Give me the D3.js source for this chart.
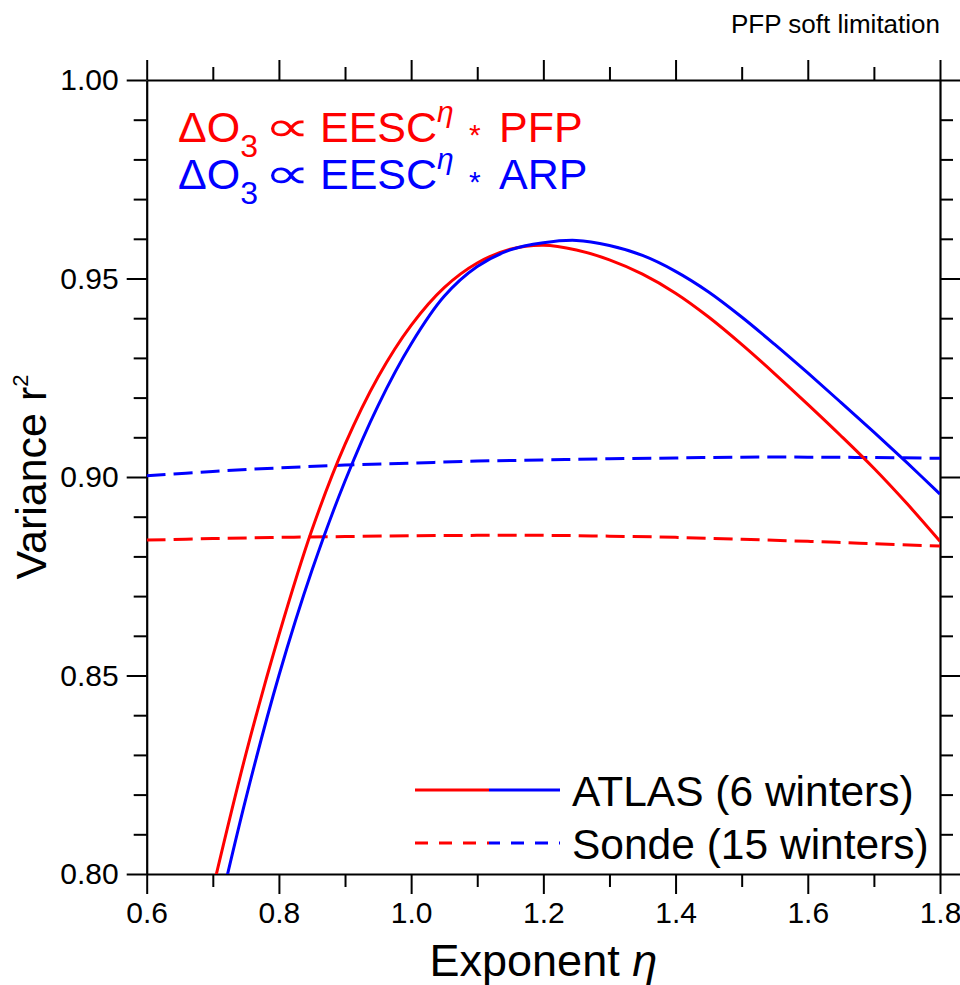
<!DOCTYPE html>
<html>
<head>
<meta charset="utf-8">
<script src="https://cdn.jsdelivr.net/npm/d3@7"></script>
<style>
  body { margin: 0; background: #fff; }
  text { font-family: "Liberation Sans", Arial, Helvetica, sans-serif; }
</style>
</head>
<body>
<script>
var w = 960;
var h = 985;

// exponent grid for the ATLAS curves
var etaGrid = [0.70, 0.75, 0.80, 0.85, 0.90, 0.95, 1.00, 1.05, 1.10, 1.15, 1.20, 1.25,
               1.30, 1.35, 1.40, 1.45, 1.50, 1.55, 1.60, 1.65, 1.70, 1.75, 1.80];
var atlasPFP = [0.7962, 0.8302, 0.8602, 0.8867, 0.9082, 0.9252, 0.9382, 0.9477, 0.9539, 0.9574, 0.9584, 0.9572,
                0.9547, 0.9511, 0.9463, 0.9403, 0.9334, 0.9260, 0.9183, 0.9104, 0.9022, 0.8933, 0.8838];
var atlasARP = [0.7840, 0.8190, 0.8500, 0.8765, 0.8990, 0.9180, 0.9335, 0.9455, 0.9530, 0.9572, 0.9590, 0.9596,
                0.9583, 0.9558, 0.9518, 0.9466, 0.9403, 0.9334, 0.9262, 0.9188, 0.9113, 0.9036, 0.8957];

// sonde curves, coarser grid
var sondeEta = [0.6, 0.7, 0.8, 0.9, 1.0, 1.1, 1.2, 1.3, 1.4, 1.5, 1.6, 1.7, 1.8];
var sondePFP = [0.8841, 0.8845, 0.8848, 0.8850, 0.8852, 0.8853, 0.8853, 0.8851, 0.8848, 0.8843, 0.8838, 0.8832, 0.8826];
var sondeARP = [0.9003, 0.9014, 0.9023, 0.9030, 0.9035, 0.9040, 0.9043, 0.9046, 0.9048, 0.9050, 0.9050, 0.9049, 0.9047];

var xMajor = [0.6, 0.8, 1.0, 1.2, 1.4, 1.6, 1.8];
var xMinor = [0.7, 0.9, 1.1, 1.3, 1.5, 1.7];
var yMajor = [0.80, 0.85, 0.90, 0.95, 1.00];
var yMinor = d3.range(80, 101).map(function(v){ return v / 100; })
               .filter(function(v){ return Math.round(v * 100) % 5 !== 0; });

var legendLabels = ["ATLAS (6 winters)", "Sonde (15 winters)"];

var margin = {left: 146.7, right: 20, top: 80, bottom: 111};

var svg = d3.select("body")
    .append("svg")
    .attr("width", w)
    .attr("height", h);

var xScale = d3.scaleLinear()
    .domain([0.6, 1.8])
    .range([margin.left, w - margin.right]);

var yScale = d3.scaleLinear()
    .domain([0.80, 1.00])
    .range([h - margin.bottom, margin.top]);

svg.append("clipPath")
    .attr("id", "plotclip")
    .append("rect")
    .attr("x", margin.left)
    .attr("y", margin.top)
    .attr("width", xScale(1.8) - margin.left)
    .attr("height", yScale(0.8) - margin.top);

// axes, major and minor ticks on all four sides
function drawAxis(axisFn, scale, transform, major, minor, fmt) {
    var gMinor = svg.append("g")
        .attr("transform", transform)
        .call(axisFn(scale).tickValues(minor).tickSize(13).tickSizeOuter(0).tickFormat(""));
    gMinor.select(".domain").remove();
    var g = svg.append("g")
        .attr("transform", transform)
        .call(axisFn(scale).tickValues(major).tickSize(20).tickSizeOuter(0)
              .tickPadding(8).tickFormat(fmt ? d3.format(fmt) : ""));
    g.selectAll("line").attr("stroke-width", 2);
    gMinor.selectAll("line").attr("stroke-width", 2);
    g.select(".domain").attr("stroke-width", 2.2);
    g.selectAll("text")
        .attr("font-size", 30)
        .attr("font-family", "Liberation Sans, Arial, sans-serif")
        .attr("fill", "#000");
    return g;
}

drawAxis(d3.axisBottom, xScale, "translate(0," + yScale(0.8) + ")", xMajor, xMinor, ".1f");
drawAxis(d3.axisTop, xScale, "translate(0," + yScale(1.0) + ")", xMajor, xMinor, null);
drawAxis(d3.axisLeft, yScale, "translate(" + xScale(0.6) + ",0)", yMajor, yMinor, ".2f");
drawAxis(d3.axisRight, yScale, "translate(" + xScale(1.8) + ",0)", yMajor, yMinor, null);

// curves
var line = d3.line()
    .x(function(d){ return xScale(d[0]); })
    .y(function(d){ return yScale(d[1]); })
    .curve(d3.curveCatmullRom.alpha(0.5));

var series = [
    {eta: sondeEta, vals: sondePFP, color: "#ff0000", dash: "19,8"},
    {eta: sondeEta, vals: sondeARP, color: "#0000ff", dash: "19,8"},
    {eta: etaGrid, vals: atlasPFP, color: "#ff0000", dash: null},
    {eta: etaGrid, vals: atlasARP, color: "#0000ff", dash: null}
];

svg.append("g")
    .attr("clip-path", "url(#plotclip)")
    .selectAll("path")
    .data(series)
    .enter()
    .append("path")
    .attr("d", function(s){ return line(s.eta.map(function(e, i){ return [e, s.vals[i]]; })); })
    .attr("fill", "none")
    .attr("stroke", function(s){ return s.color; })
    .attr("stroke-width", 3)
    .attr("stroke-dasharray", function(s){ return s.dash; });

// formula labels
function formula(y, color, tail) {
    var t = svg.append("text")
        .attr("y", y)
        .attr("fill", color)
        .attr("font-size", 43);
    t.append("tspan").attr("x", 178).text("\u0394O");
    t.append("tspan").attr("font-size", 32).attr("dy", 15).text("3");
    t.append("tspan").attr("x", 320).attr("dy", -15).text("EESC");
    t.append("tspan").attr("font-size", 30).attr("font-style", "italic").attr("dy", -20).text("\u03B7");
    t.append("tspan").attr("x", 469).attr("font-size", 30).attr("dy", 23).text("*");
    t.append("tspan").attr("x", 499).attr("dy", -3).text(tail);
    // the proportional sign is wider in the original
    svg.append("text")
        .attr("transform", "translate(287," + (y - 1) + ") scale(1.55,1)")
        .attr("text-anchor", "middle")
        .attr("fill", color)
        .attr("font-family", "DejaVu Sans")
        .attr("font-size", 42)
        .text("\u221D");
}
formula(142, "#ff0000", "PFP");
formula(189, "#0000ff", "ARP");

// legend
var legY = [790, 843];
[0, 1].forEach(function(i){
    var dash = i === 0 ? null : "13,11";
    svg.append("line").attr("x1", 415).attr("x2", 489).attr("y1", legY[i]).attr("y2", legY[i])
        .attr("stroke", "#ff0000").attr("stroke-width", 3).attr("stroke-dasharray", dash);
    svg.append("line").attr("x1", 489).attr("x2", 560).attr("y1", legY[i]).attr("y2", legY[i])
        .attr("stroke", "#0000ff").attr("stroke-width", 3).attr("stroke-dasharray", dash)
        .attr("stroke-dashoffset", dash ? 2 : null);
    svg.append("text").attr("x", 572).attr("y", legY[i] + 16)
        .attr("font-size", 42.5).attr("fill", "#000")
        .text(legendLabels[i]);
});

// axis titles
var xt = svg.append("text")
    .attr("x", (xScale(0.6) + xScale(1.8)) / 2)
    .attr("y", 976)
    .attr("text-anchor", "middle")
    .attr("font-size", 45);
xt.append("tspan").text("Exponent ");
xt.append("tspan").attr("font-style", "italic").text("\u03B7");

var yt = svg.append("text")
    .attr("transform", "translate(46," + (yScale(0.9)) + ") rotate(-90)")
    .attr("text-anchor", "middle")
    .attr("font-size", 43);
yt.append("tspan").text("Variance r");
yt.append("tspan").attr("font-size", 22).attr("dy", -18).text("2");

svg.append("text")
    .attr("x", 940)
    .attr("y", 33)
    .attr("text-anchor", "end")
    .attr("font-size", 26)
    .text("PFP soft limitation");
</script>
</body>
</html>
